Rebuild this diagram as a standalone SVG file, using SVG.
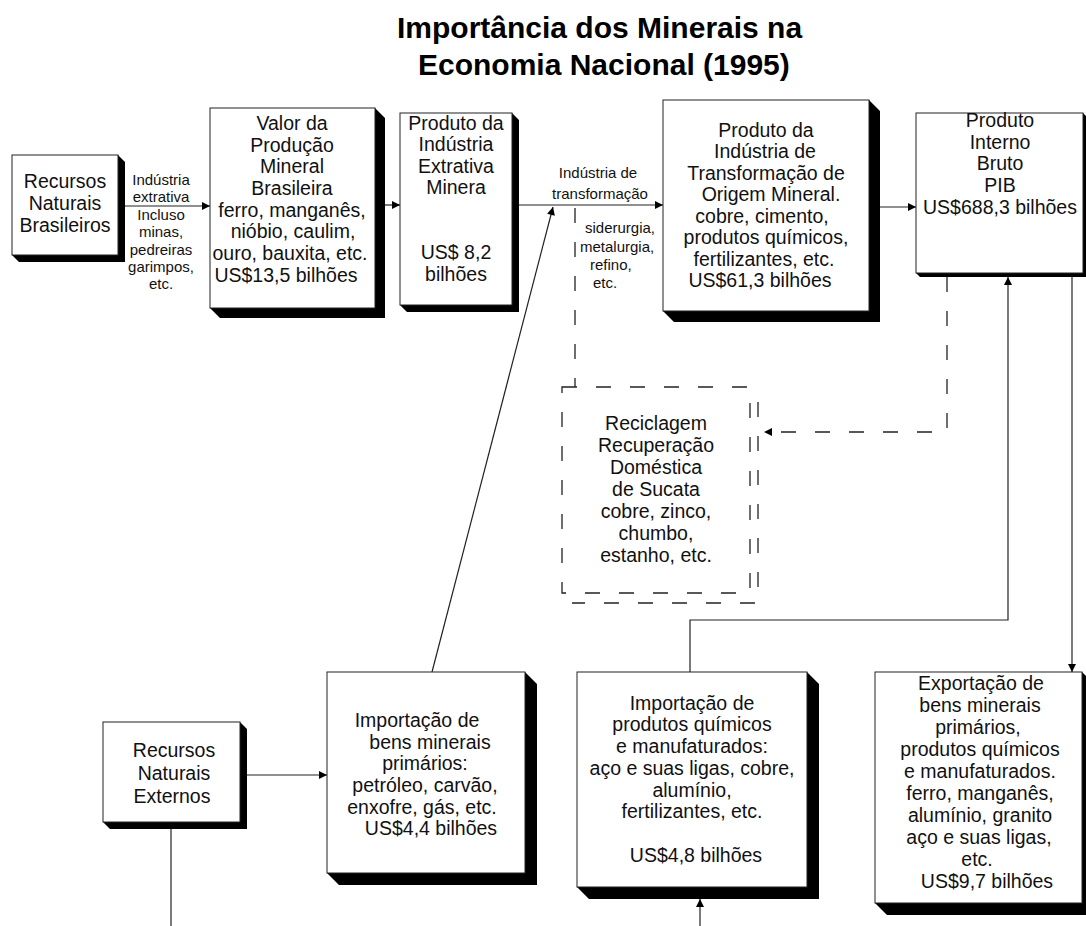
<svg xmlns="http://www.w3.org/2000/svg" width="1086" height="926" viewBox="0 0 1086 926">
<defs>
<style>
.bg{fill:#ffffff}
.box{fill:#ffffff;stroke:#222;stroke-width:1}
.sh{fill:#000}
.dbox{fill:none;stroke:#222;stroke-width:1.3;stroke-dasharray:15 19}
.t{font-family:"Liberation Sans",Arial,sans-serif;font-size:19.5px;fill:#111;text-anchor:middle}
.s{font-family:"Liberation Sans",Arial,sans-serif;font-size:15px;fill:#111;text-anchor:middle}
.ss{font-family:"Liberation Sans",Arial,sans-serif;font-size:15px;fill:#111}
.title{font-family:"Liberation Sans",Arial,sans-serif;font-size:30px;font-weight:bold;fill:#000}
.ln{fill:none;stroke:#222;stroke-width:1.2}
.dl{fill:none;stroke:#222;stroke-width:1.3;stroke-dasharray:15 19}
</style>
<marker id="ah" viewBox="0 0 10 10" refX="10" refY="5" markerWidth="11" markerHeight="8" markerUnits="userSpaceOnUse" orient="auto"><path d="M0,0 L10,5 L0,10 z" fill="#000"/></marker>
</defs>
<rect class="bg" x="0" y="0" width="1086" height="926"/>
<g id="title">
<text class="title" x="397" y="38">Importância dos Minerais na</text>
<text class="title" x="418" y="75">Economia Nacional (1995)</text>
</g>
<g id="connectors">
<path class="ln" d="M118,206 H210" marker-end="url(#ah)"/>
<path class="ln" d="M382,205 H400" marker-end="url(#ah)"/>
<path class="ln" d="M519,205 H663" marker-end="url(#ah)"/>
<path class="ln" d="M880,207 H916" marker-end="url(#ah)"/>
<path class="ln" d="M432,672 L553,207" marker-end="url(#ah)"/>
<path class="ln" d="M247,775 H327" marker-end="url(#ah)"/>
<path class="ln" d="M171,829 V926"/>
<path class="ln" d="M700,926 V899" marker-end="url(#ah)"/>
<path class="ln" d="M690,672 V620 H1008 V277" marker-end="url(#ah)"/>
<path class="ln" d="M1072,277 V672" marker-end="url(#ah)"/>
<path class="dl" d="M947,277 V432 H764" marker-end="url(#ah)"/>
<path class="dl" d="M575,208 V387"/>
<g id="lbl-extrativa">
<text class="s" x="161" y="185">Indústria</text>
<text class="s" x="161" y="202">extrativa</text>
<text class="s" x="161" y="220">Incluso</text>
<text class="s" x="161" y="237">minas,</text>
<text class="s" x="161" y="255">pedreiras</text>
<text class="s" x="161" y="272">garimpos,</text>
<text class="s" x="161" y="289">etc.</text>
</g>
<g id="lbl-transf">
<text class="s" x="598" y="178">Indústria de</text>
<text class="s" x="600" y="199">transformação</text>
<text class="ss" x="585" y="233">siderurgia,</text>
<text class="ss" x="580" y="252">metalurgia,</text>
<text class="ss" x="590" y="270">refino,</text>
<text class="ss" x="593" y="288">etc.</text>
</g>
</g>
<g id="recursos-brasileiros">
<polygon class="sh" points="118,155 125,162 125,262 19,262 12,255 118,255"/>
<rect class="box" x="12" y="155" width="106" height="100"/>
<text class="t" x="65" y="188">Recursos</text>
<text class="t" x="65" y="210">Naturais</text>
<text class="t" x="65" y="232">Brasileiros</text>
</g>
<g id="valor-producao">
<polygon class="sh" points="375,108 385,118 385,318 220,318 210,308 375,308"/>
<rect class="box" x="210" y="108" width="165" height="200"/>
<text class="t" x="292" y="130">Valor da</text>
<text class="t" x="292" y="152">Produção</text>
<text class="t" x="292" y="173">Mineral</text>
<text class="t" x="292" y="195">Brasileira</text>
<text class="t" x="292" y="217">ferro, manganês,</text>
<text class="t" x="293" y="238">nióbio, caulim,</text>
<text class="t" x="290" y="260">ouro, bauxita, etc.</text>
<text class="t" x="286" y="282">US$13,5 bilhões</text>
</g>
<g id="produto-extrativa">
<polygon class="sh" points="512,113 519,120 519,312 407,312 400,305 512,305"/>
<rect class="box" x="400" y="113" width="112" height="192"/>
<text class="t" x="456" y="130">Produto da</text>
<text class="t" x="456" y="151">Indústria</text>
<text class="t" x="456" y="173">Extrativa</text>
<text class="t" x="456" y="194">Minera</text>
<text class="t" x="456" y="259">US$ 8,2</text>
<text class="t" x="456" y="281">bilhões</text>
</g>
<g id="produto-transformacao">
<polygon class="sh" points="869,100 880,111 880,322 674,322 663,311 869,311"/>
<rect class="box" x="663" y="100" width="206" height="211"/>
<text class="t" x="766" y="137">Produto da</text>
<text class="t" x="765" y="158">Indústria de</text>
<text class="t" x="766" y="180">Transformação de</text>
<text class="t" x="771" y="201">Origem Mineral.</text>
<text class="t" x="762" y="223">cobre, cimento,</text>
<text class="t" x="766" y="244">produtos químicos,</text>
<text class="t" x="764" y="266">fertilizantes, etc.</text>
<text class="t" x="760" y="287">US$61,3 bilhões</text>
</g>
<g id="pib">
<polygon class="sh" points="1083,113 1087,117 1087,277 920,277 916,273 1083,273"/>
<rect class="box" x="916" y="113" width="167" height="160"/>
<text class="t" x="1000" y="127">Produto</text>
<text class="t" x="1000" y="149">Interno</text>
<text class="t" x="1000" y="170">Bruto</text>
<text class="t" x="1000" y="192">PIB</text>
<text class="t" x="1000" y="214">US$688,3 bilhões</text>
</g>
<g id="reciclagem">
<rect class="dbox" x="562" y="387" width="188" height="206"/>
<path class="dbox" d="M758,402 V603 H572"/>
<text class="t" x="656" y="430">Reciclagem</text>
<text class="t" x="656" y="452">Recuperação</text>
<text class="t" x="656" y="474">Doméstica</text>
<text class="t" x="656" y="496">de Sucata</text>
<text class="t" x="656" y="518">cobre, zinco,</text>
<text class="t" x="656" y="540">chumbo,</text>
<text class="t" x="656" y="562">estanho, etc.</text>
</g>
<g id="recursos-externos">
<polygon class="sh" points="240,722 247,729 247,829 110,829 103,822 240,822"/>
<rect class="box" x="103" y="722" width="137" height="100"/>
<text class="t" x="174" y="757">Recursos</text>
<text class="t" x="174" y="780">Naturais</text>
<text class="t" x="172" y="803">Externos</text>
</g>
<g id="importacao-primarios">
<polygon class="sh" points="525,672 537,684 537,885 339,885 327,873 525,873"/>
<rect class="box" x="327" y="672" width="198" height="201"/>
<text class="t" x="417" y="727">Importação de</text>
<text class="t" x="430" y="749">bens minerais</text>
<text class="t" x="425" y="770">primários:</text>
<text class="t" x="425" y="792">petróleo, carvão,</text>
<text class="t" x="422" y="814">enxofre, gás, etc.</text>
<text class="t" x="431" y="835">US$4,4 bilhões</text>
</g>
<g id="importacao-manufaturados">
<polygon class="sh" points="807,672 819,684 819,899 589,899 577,887 807,887"/>
<rect class="box" x="577" y="672" width="230" height="215"/>
<text class="t" x="692" y="710">Importação de</text>
<text class="t" x="692" y="731">produtos químicos</text>
<text class="t" x="692" y="753">e manufaturados:</text>
<text class="t" x="692" y="775">aço e suas ligas, cobre,</text>
<text class="t" x="692" y="797">alumínio,</text>
<text class="t" x="692" y="818">fertilizantes, etc.</text>
<text class="t" x="696" y="862">US$4,8 bilhões</text>
</g>
<g id="exportacao">
<polygon class="sh" points="1082,672 1094,684 1094,915 887,915 875,903 1082,903"/>
<rect class="box" x="875" y="672" width="207" height="231"/>
<text class="t" x="981" y="690">Exportação de</text>
<text class="t" x="980" y="712">bens minerais</text>
<text class="t" x="978" y="734">primários,</text>
<text class="t" x="980" y="756">produtos químicos</text>
<text class="t" x="980" y="778">e manufaturados.</text>
<text class="t" x="980" y="800">ferro, manganês,</text>
<text class="t" x="980" y="822">alumínio, granito</text>
<text class="t" x="979" y="844">aço e suas ligas,</text>
<text class="t" x="977" y="866">etc.</text>
<text class="t" x="987" y="888">US$9,7 bilhões</text>
</g>
</svg>
